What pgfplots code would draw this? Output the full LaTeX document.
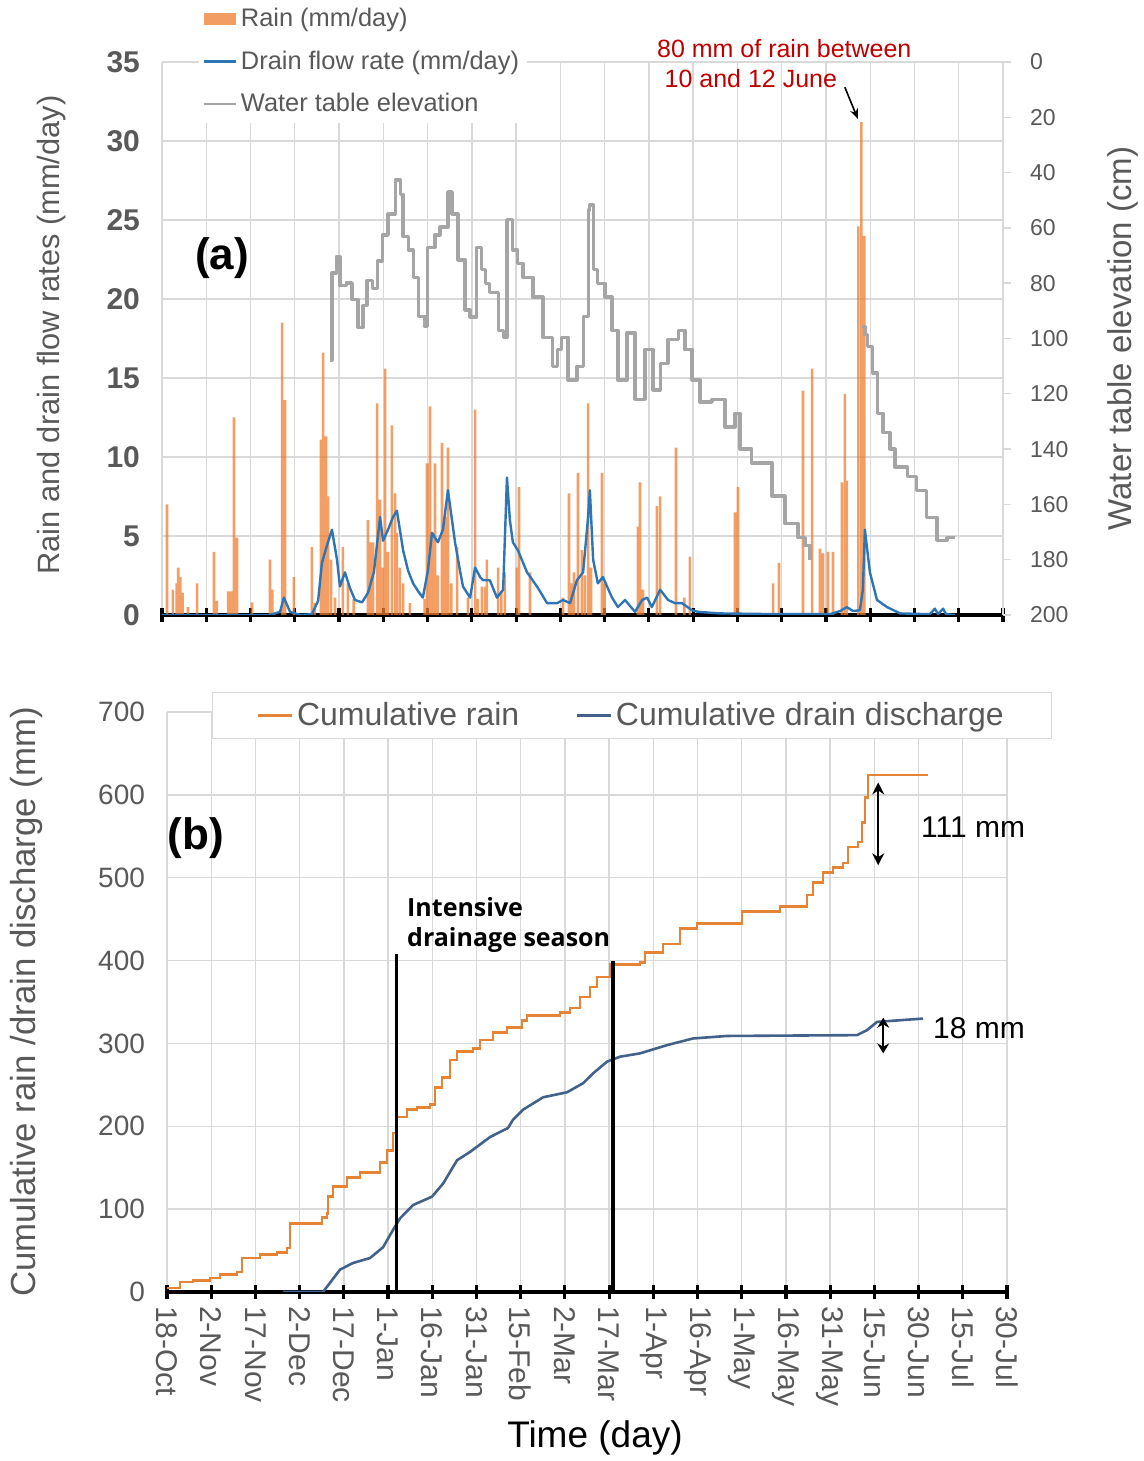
\documentclass[border=0pt]{standalone}
\usepackage{pgfplots}
\pgfplotsset{compat=1.18}
\usetikzlibrary{arrows.meta}
\usepackage{fontspec}
\setmainfont{Liberation Sans}
\newfontfamily\annfont{Open Sans}
\definecolor{rainc}{RGB}{237,125,49}
\definecolor{drainc}{RGB}{46,117,182}
\definecolor{wtc}{RGB}{165,165,165}
\definecolor{cumrainc}{RGB}{228,132,52}
\definecolor{cumdrainc}{RGB}{66,98,138}
\definecolor{gridc}{RGB}{217,217,217}
\definecolor{txtgray}{RGB}{89,89,89}
\definecolor{redc}{RGB}{192,0,0}

\begin{document}
\begin{tikzpicture}
\useasboundingbox (0,0) rectangle (572pt,730.5pt);

% ---------- (a) left axis: rain and drain flow ----------
\begin{axis}[
  at={(81pt,423pt)}, anchor=south west,
  scale only axis, width=420.5pt, height=276.5pt,
  xmin=0, xmax=285, ymin=0, ymax=35,
  axis x line*=bottom, axis y line*=left,
  x axis line style={black, line width=1.6pt, -},
  y axis line style={draw=none},
  xtick={0,15,...,285}, xticklabels={},
  xtick style={black, line width=1.6pt},
  major tick length=7pt, tick align=center,
  ytick={0,5,...,35}, ytick style={draw=none},
  yticklabel style={font=\fontsize{15}{18}\selectfont\bfseries, text=txtgray, xshift=-4pt},
  /pgf/number format/assume math mode=true,
  xmajorgrids, ymajorgrids, major grid style={gridc, line width=0.7pt},
  ylabel={Rain and drain flow rates (mm/day)},
  ylabel style={at={(axis description cs:-0.131,0.506)}, anchor=center, rotate=0,
    font=\fontsize{15.4}{18}\selectfont, text=txtgray},
  clip mode=individual,
  legend style={at={(axis description cs:0.043,1.112)}, anchor=north west,
    draw=none, fill=white, row sep=6.5pt, inner sep=2pt,
    font=\fontsize{12.7}{15}\selectfont\color{txtgray}},
  legend cell align=left,
  legend image code/.code={\draw[#1] (0pt,0pt) -- (16pt,0pt);},
]
\addplot[ybar, bar width=0.9, fill=rainc, fill opacity=0.75, draw=none,
  legend image code/.code={\fill[rainc] (0pt,-3pt) rectangle (16pt,3pt);}]
  coordinates {
(1.7,7.0) (3.7,1.6) (5,2.0) (5.5,3.0) (6.2,2.4) (7,1.4) (8.8,0.5) (11.9,2.0)
(17.6,4.0) (18.6,0.9) (22.4,1.5) (23.4,1.5) (24.4,12.5) (25.4,4.9) (30.5,0.8)
(36.6,3.5) (37.4,1.6) (40.7,18.5) (41.7,13.6) (44.7,2.4) (50.8,4.3) (51.8,0.75)
(53.9,11.1) (54.6,16.6) (55.6,11.3) (56.3,7.5) (57.3,3.5) (58.6,1.1) (61.3,4.3)
(63,2.0) (65,1.0) (69.8,6.0) (70.5,4.6) (71.5,4.6) (72.9,13.4) (73.9,7.3)
(74.9,3.0) (75.6,15.6) (76.6,4.0) (77.9,12.0) (79,7.7) (79.6,5.2) (80.6,3.0)
(81.7,2.0) (84,0.75) (89,1.0) (89.8,9.6) (90.8,13.2) (91.5,5.2) (92.5,9.6)
(93.5,2.5) (94.9,10.9) (95.9,6.2) (96.9,10.6) (98,2.0) (100,4.3) (103.7,1.1)
(106.1,13.0) (107,1.0) (108.4,1.8) (109.5,1.8) (110.1,3.5) (113.9,3.0) (115,1.5)
(116.2,2.7) (120.3,3.0) (121,8.1) (124.7,2.7) (135.9,1.1) (137.9,7.7) (138.9,2.0)
(139.6,2.7) (141,9.0) (142.3,4.1) (143.3,2.5) (144.4,13.4) (145.4,3.0) (149.1,9.0)
(150,2.0) (161.3,5.6) (162,8.4) (163,1.6) (167.7,6.9) (168.8,7.5) (174.2,10.6)
(177,1.1) (178.9,3.7) (194.2,6.5) (195.2,8.1) (207.1,2.0) (209.1,3.3) (217.2,14.2)
(220.3,15.6) (223,4.2) (224,3.9) (225.7,4.0) (227.4,4.0) (230.4,8.4) (231.4,14.0)
(232.1,8.5) (236,24.6) (237,31.2) (238,24.0)
};
\addlegendentry{Rain (mm/day)}
\addplot[drainc, line width=1.2pt, line join=round] coordinates {
(0,0) (36.6,0) (40.0,0.2) (41.3,1.1) (43.4,0.2) (46.8,0) (50.8,0.05) (52.9,0.9)
(54.2,3.3) (55.9,4.4) (57.6,5.4) (59.3,3.5) (60.3,1.8) (62.0,2.7) (63.7,1.7)
(65.4,0.95) (67.8,0.8) (69.8,1.4) (71.8,2.7) (73.9,6.2) (74.9,4.7) (76.6,5.4)
(78.3,6.2) (79.6,6.6) (81.7,4.1) (83.4,2.8) (85.1,2.0) (86.8,1.5) (88.4,1.1)
(90.1,2.8) (91.5,5.2) (93.5,4.6) (95.2,5.4) (96.9,7.9) (99.3,4.6) (101.0,2.8)
(102.0,1.8) (104.4,1.1) (106.1,3.0) (107.8,2.4) (108.8,2.2) (111.1,2.2) (113.5,1.1)
(115.6,1.6) (116.9,8.7) (117.9,6.0) (118.9,4.6) (120.6,4.1) (123.7,2.7) (127.1,1.8)
(130.5,0.75) (133.9,0.75) (135.9,0.95) (138.3,0.75) (140.6,2.2) (142.7,2.7)
(144.4,6.2) (145.0,7.9) (146.1,3.5) (147.7,2.0) (149.4,2.4) (152.5,1.1) (154.5,0.5)
(156.9,0.95) (160.3,0.2) (162.7,0.95) (164.4,1.1) (166.0,0.5) (168.8,1.6) (171.5,0.95)
(173.8,0.75) (176.2,0.75) (179.6,0.3) (181.6,0.2) (189.1,0.1) (209.4,0.05) (226.4,0.05)
(229.8,0.25) (232.1,0.5) (234.2,0.25) (236.5,0.3) (237.5,1.6) (238.2,5.4) (239.2,3.8)
(239.9,2.7) (242.3,0.95) (245.7,0.5) (250.1,0.1) (260.2,0.05) (261.9,0.4) (263.0,0.05)
(264.7,0.4) (265.7,0.05) (268.7,0)
};
\addlegendentry{Drain flow rate (mm/day)}
\addlegendimage{wtc, line width=0.8pt}
\addlegendentry{Water table elevation}
\node[font=\fontsize{22}{26}\selectfont\bfseries] at (axis cs:20.3,22.6) {(a)};
\node[text=redc, align=left, anchor=west, font=\fontsize{12.5}{15}\selectfont]
  at (axis cs:165.4,34.9) {80 mm of rain between\\\hspace{0.3em}10 and 12 June};
\draw[-{Stealth[length=5pt,width=4pt]}, line width=0.8pt]
  (axis cs:231.4,33.4) -- (axis cs:235.8,31.4);
\end{axis}

% ---------- (a) right axis: water table ----------
\begin{axis}[
  at={(81pt,423pt)}, anchor=south west,
  scale only axis, width=420.5pt, height=276.5pt,
  xmin=0, xmax=285, axis x line=none,
  ymin=0, ymax=200, y dir=reverse,
  axis y line*=right,
  y axis line style={gridc, line width=0.7pt, -},
  ytick={0,20,...,200},
  ytick style={gridc, line width=0.7pt}, tick align=outside, major tick length=4pt,
  yticklabel style={font=\fontsize{11.5}{14}\selectfont, text=txtgray, xshift=6pt},
  /pgf/number format/assume math mode=true,
  ylabel={Water table elevation (cm)},
  ylabel style={at={(axis description cs:1.143,0.5)}, anchor=center, rotate=0,
    font=\fontsize{16.5}{20}\selectfont, text=txtgray},
]
\addplot[wtc, line width=1.6pt, line join=round, const plot] coordinates {
(56.9,107.8) (57.6,76.3) (59.0,70.5) (60.3,80.7) (62.4,79.9) (64.4,86) (66.4,96)
(68.1,88) (69.5,79) (71.2,82) (72.9,72) (74.6,62.6) (76.6,55) (79.0,42.7) (80.7,48)
(81.7,63) (83.4,68) (85.1,77.8) (86.8,92) (89.1,95.8) (90.1,67) (92.5,62.6) (94.2,59.7)
(96.9,47) (98.3,55) (100.3,71.6) (102.7,89.7) (104.4,92.2) (106.7,67) (108.4,75)
(109.5,80) (111.1,83.5) (113.9,97) (115.6,99.5) (116.9,57) (118.9,68) (120.6,73)
(122.3,77.8) (125.7,85) (129.1,99.5) (132.2,110) (133.9,104) (135.5,99.5) (137.6,115)
(140.6,110) (142.7,92) (144.4,53.5) (145.0,51.7) (146.1,75) (147.7,80) (150.1,85)
(152.5,97) (154.5,115) (157.6,98) (160.3,122) (163.7,104) (166.4,118.6) (168.8,109)
(171.5,100.5) (174.9,97) (177.2,104) (179.6,115) (182.3,123) (186.4,122) (190.8,132)
(194.2,127) (195.9,140) (199.9,145) (203.3,145) (206.7,157) (211.1,167) (215.5,172)
(217.9,175) (219.6,180)
};
\addplot[wtc, line width=1.6pt, line join=round, const plot] coordinates {
(237.2,95.8) (238.2,98.7) (239.2,103) (240.9,112.5) (242.6,127) (244.3,134)
(246.7,140) (248.4,146.5) (252.5,150) (255.8,155) (259.2,164.6) (262.6,173)
(266.0,172) (268.7,172)
};
\end{axis}

% ---------- (b) cumulative ----------
\begin{axis}[
  at={(83.5pt,84.5pt)}, anchor=south west,
  scale only axis, width=420pt, height=290pt,
  xmin=0, xmax=285, ymin=0, ymax=700,
  axis x line*=bottom, axis y line*=left,
  x axis line style={black, line width=1.6pt, -},
  y axis line style={draw=none},
  xtick={0,15,...,285},
  xticklabels={18-Oct,2-Nov,17-Nov,2-Dec,17-Dec,1-Jan,16-Jan,31-Jan,15-Feb,2-Mar,
    17-Mar,1-Apr,16-Apr,1-May,16-May,31-May,15-Jun,30-Jun,15-Jul,30-Jul},
  xticklabel style={rotate=-90, anchor=west, font=\fontsize{15}{18}\selectfont, text=txtgray},
  xtick style={black, line width=1.6pt},
  major tick length=7pt, tick align=center,
  ytick={0,100,...,700}, ytick style={draw=none},
  yticklabel style={font=\fontsize{14}{17}\selectfont, text=txtgray, xshift=-4pt},
  /pgf/number format/assume math mode=true,
  xmajorgrids, ymajorgrids, major grid style={gridc, line width=0.7pt},
  ylabel={Cumulative rain /drain discharge (mm)},
  ylabel style={at={(axis description cs:-0.1667,0.5)}, anchor=center, rotate=0,
    font=\fontsize{17.4}{20}\selectfont, text=txtgray},
  xlabel={Time (day)},
  xlabel style={at={(axis description cs:0.5095,-0.252)}, anchor=center,
    font=\fontsize{18.5}{22}\selectfont},
  clip mode=individual,
  legend columns=2,
  legend style={at={(axis description cs:0.0536,1.0345)}, anchor=north west,
    draw=gridc, fill=white, inner xsep=22pt, inner ysep=3pt,
    font=\fontsize{16}{19}\selectfont\color{txtgray},
    /tikz/every even column/.append style={column sep=26pt}},
  legend image code/.code={\draw[#1] (0pt,0pt) -- (17pt,0pt);},
]
\addplot[cumrainc, line width=1.3pt, const plot] coordinates {
(0,5) (4.4,12) (8.8,14) (14.6,17) (18.0,21) (23.8,24) (25.4,41) (31.6,45) (37.3,48)
(40.7,53) (41.7,83) (49.5,83) (52.6,90) (54.3,95) (54.6,115) (56.3,127) (61.1,138)
(65.5,144) (68.9,144) (72.3,156) (74.7,171) (76.7,192) (78.0,211) (81.4,220)
(84.8,223) (89.2,226) (90.9,247) (93.3,259) (96.0,280) (98.4,290) (103.8,294)
(106.2,304) (110.6,313) (115.4,319) (120.5,328) (122.2,334) (133.4,337) (136.7,343)
(140.1,356) (143.5,368) (145.9,380) (150.3,395) (160.5,398) (162.2,410) (168.3,420)
(174.1,439) (179.8,445) (193.4,445) (195.1,459) (208.0,465) (215.8,465) (217.2,479)
(219.2,494) (222.6,506) (226.0,512) (229.4,518) (231.1,537) (234.5,543) (235.8,567)
(236.8,597) (237.9,624) (258.2,624)
};
\addlegendentry{Cumulative rain}
\addplot[cumdrainc, line width=1.3pt, line join=round] coordinates {
(39.4,0) (52.9,0) (55.3,11) (58.7,27) (63.1,35) (68.9,41) (73.3,54) (76.7,75)
(79.1,89) (83.5,105) (89.9,115) (93.7,131) (98.4,159) (102.8,169) (109.6,187)
(115.7,198) (117.4,208) (120.8,220) (127.6,235) (135.7,241) (141.2,252) (144.6,264)
(149.3,278) (153.7,284) (160.5,288) (169.7,298) (178.5,306) (190.0,309) (234.1,310)
(237.5,316) (240.9,326) (248.7,328) (256.5,330)
};
\addlegendentry{Cumulative drain discharge}
\addplot[black, line width=1.6pt, forget plot] coordinates {(77.8,0) (77.8,408)};
\addplot[black, line width=1.6pt, forget plot] coordinates {(151.3,0) (151.3,400)};
\node[font=\fontsize{22}{26}\selectfont\bfseries] at (axis cs:9.8,548) {(b)};
\node[anchor=west, align=left, font=\annfont\fontsize{12.5}{15}\selectfont\bfseries]
  at (axis cs:79.1,443) {Intensive\\drainage season};
\draw[{Stealth[length=6pt,width=6pt]}-{Stealth[length=6pt,width=6pt]}, line width=0.8pt]
  (axis cs:241.3,615) -- (axis cs:241.3,515);
\draw[{Stealth[length=5pt,width=6pt]}-{Stealth[length=5pt,width=6pt]}, line width=0.8pt]
  (axis cs:243,331) -- (axis cs:243,288);
\node[font=\fontsize{15}{18}\selectfont] at (axis cs:273.5,561) {111 mm};
\node[font=\fontsize{15}{18}\selectfont] at (axis cs:275.5,318.6) {18 mm};
\end{axis}
\end{tikzpicture}
\end{document}
